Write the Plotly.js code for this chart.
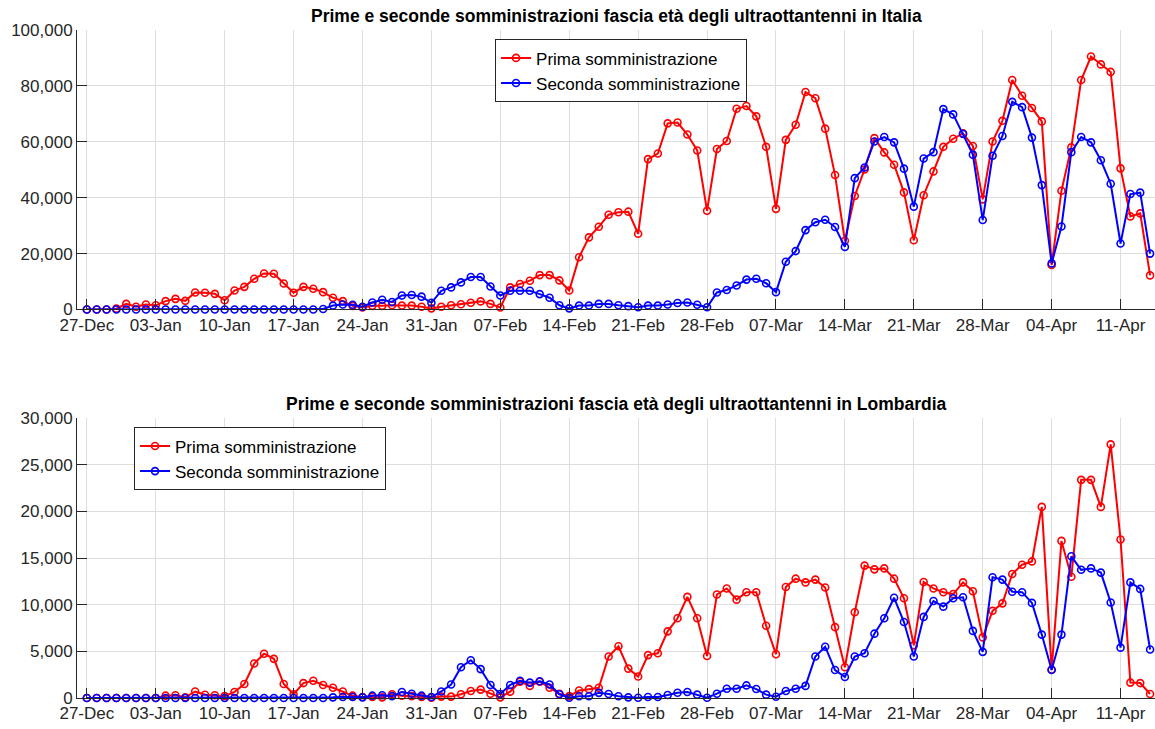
<!DOCTYPE html>
<html>
<head>
<meta charset="utf-8">
<script src="https://cdn.plot.ly/plotly-3.0.1.min.js"></script>
<style>html,body{margin:0;padding:0;background:#fff;}#chart{width:1155px;height:729px;}</style>
</head>
<body>
<div id="chart"></div>
<script>
// ---- Data ----
const startDate = '2020-12-27';
const numDays = 109;
const seriesNames = ['Prima somministrazione', 'Seconda somministrazione'];
const titleItalia = 'Prime e seconde somministrazioni fascia età degli ultraottantenni in Italia';
const titleLombardia = 'Prime e seconde somministrazioni fascia età degli ultraottantenni in Lombardia';

const itaPrima = [0,0,0,300,2000,1000,1800,1500,3000,3800,3100,6100,6000,5600,3300,6800,8100,11000,12900,12800,9300,6000,8100,7400,6200,4200,3000,1300,700,1300,1300,1500,1400,1400,1000,400,1000,1500,1900,2400,2900,2000,700,7900,9100,10300,12300,12300,10400,6800,18700,25800,29600,33900,34800,35000,27100,53800,55800,66600,66900,62600,56900,35300,57400,60300,71800,72800,69100,58200,36000,60700,66100,77800,75600,64700,48100,24600,40600,50100,61300,56200,51800,41900,24800,40900,49400,58200,61100,63000,58500,39400,60100,67500,82100,76500,72100,67300,15900,42500,58000,82100,90500,87700,85000,50500,33300,34400,12200];
const itaSeconda = [0,0,0,0,0,0,0,0,0,0,0,0,0,0,0,0,0,0,0,0,0,0,0,0,200,1400,1800,1700,1000,2500,3500,2700,5000,5200,4600,2400,6700,7900,9700,11600,11600,8200,5000,6700,6700,6700,5500,4200,1500,400,1400,1400,2000,2000,1500,1200,800,1400,1400,1800,2300,2500,1700,800,6100,7000,8600,10700,11000,9400,6200,17100,20900,28400,31200,32100,29500,22400,47000,50800,60100,61700,59800,50400,36800,54000,56300,71700,69800,62800,55400,32000,55000,62100,74300,72400,61500,44500,16500,29700,56300,61700,59800,53400,45000,23600,41300,41800,20000];
const lomPrima = [0,0,0,0,0,0,0,0,250,300,70,700,350,300,200,650,1500,3700,4750,4200,1500,400,1600,1850,1400,1100,700,250,100,100,70,400,250,200,100,30,150,150,400,750,900,450,70,680,1750,1300,1750,1100,450,200,800,950,1100,4450,5550,3150,2300,4600,4800,7150,8550,10850,8550,4500,11100,11750,10550,11350,11350,7750,4700,11900,12800,12400,12700,11850,7600,3300,9200,14200,13800,13900,12800,10700,5650,12450,11750,11350,11150,12400,11450,6500,9350,10150,13300,14300,14650,20500,3050,16850,13000,23400,23400,20500,27200,17000,1650,1600,430];
const lomSeconda = [0,0,0,0,0,0,0,0,0,0,0,0,0,0,0,0,0,0,0,0,0,0,0,0,0,70,100,100,70,250,300,200,650,450,250,100,700,1450,3300,4050,3100,1400,430,1400,1850,1650,1800,1450,400,30,180,180,550,430,180,70,30,100,100,320,570,640,360,30,460,1000,1000,1350,960,360,140,750,1000,1300,4450,5500,3000,2250,4450,4800,6900,8550,10750,8150,4450,8700,10400,9800,10700,10800,7200,4950,12950,12700,11400,11350,10200,6800,3000,6800,15200,13750,13900,13450,10250,5400,12400,11700,5200];

// daily dates (categories)
const dates = [];
{
  const t0 = Date.parse(startDate + 'T00:00:00Z');
  for (let i = 0; i < numDays; i++) {
    dates.push(new Date(t0 + i * 86400000).toISOString().slice(0, 10));
  }
}

// ---- Styles ----
const FONT = 'Liberation Sans, Arial, Helvetica, sans-serif';
const AX = '#262626';
const GRID = '#dedede';
const RED = '#ff0000';
const BLUE = '#0000ff';

function trace(y, name, color, xa, ya, leg) {
  return {
    x: dates, y: y, name: name, type: 'scatter', mode: 'lines+markers',
    xaxis: xa, yaxis: ya, legend: leg,
    line: {color: color, width: 2},
    marker: {symbol: 'circle-open', size: 7, color: color, line: {color: color, width: 1.6}},
    cliponaxis: false
  };
}

const data = [
  trace(itaPrima, seriesNames[0], RED, 'x', 'y', 'legend'),
  trace(itaSeconda, seriesNames[1], BLUE, 'x', 'y', 'legend'),
  trace(lomPrima, seriesNames[0], RED, 'x2', 'y2', 'legend2'),
  trace(lomSeconda, seriesNames[1], BLUE, 'x2', 'y2', 'legend2')
];

function xax(anchor) {
  return {
    anchor: anchor, domain: [0, 1], type: 'date',
    range: ['2020-12-26', '2021-04-14 12:00'],
    tick0: '2020-12-27', dtick: 7 * 86400000, tickformat: '%d-%b',
    ticks: 'inside', ticklen: 10, tickwidth: 1, tickcolor: AX,
    showgrid: true, gridcolor: GRID, gridwidth: 1,
    showline: true, linecolor: AX, linewidth: 1, zeroline: false,
    tickfont: {family: FONT, size: 17, color: AX}
  };
}
function yax(anchor, domain, max, step) {
  return {
    anchor: anchor, domain: domain, range: [0, max], dtick: step, tick0: 0,
    tickformat: ',d',
    ticks: 'inside', ticklen: 10, tickwidth: 1, tickcolor: AX,
    showgrid: true, gridcolor: GRID, gridwidth: 1,
    showline: true, linecolor: AX, linewidth: 1, zeroline: false,
    tickfont: {family: FONT, size: 17, color: AX}
  };
}

const legendStyle = {
  xanchor: 'left', yanchor: 'top', bgcolor: '#ffffff',
  bordercolor: AX, borderwidth: 1,
  font: {family: FONT, size: 17, color: '#000'},
  tracegroupgap: 0
};

const layout = {
  width: 1155, height: 729,
  margin: {l: 77, r: 0, t: 30, b: 31, pad: 0},
  paper_bgcolor: '#ffffff', plot_bgcolor: '#ffffff',
  font: {family: FONT, color: AX},
  showlegend: true,
  xaxis: xax('y'),
  yaxis: yax('x', [0.5816, 1], 100000, 20000),
  xaxis2: xax('y2'),
  yaxis2: yax('x2', [0, 0.4187], 30000, 5000),
  legend: Object.assign({x: 0.3878, y: 0.986}, legendStyle),
  legend2: Object.assign({x: 0.0529, y: 0.405}, legendStyle),
  annotations: [
    {text: '<b>' + titleItalia + '</b>', xref: 'paper', yref: 'paper', x: 0.5, y: 1,
     xanchor: 'center', yanchor: 'bottom', yshift: 2, showarrow: false,
     font: {family: FONT, size: 17.5, color: '#000'}},
    {text: '<b>' + titleLombardia + '</b>', xref: 'paper', yref: 'paper', x: 0.5, y: 0.4187,
     xanchor: 'center', yanchor: 'bottom', yshift: 2, showarrow: false,
     font: {family: FONT, size: 17.5, color: '#000'}}
  ]
};

Plotly.newPlot('chart', data, layout, {displayModeBar: false, responsive: false});
</script>
</body>
</html>
